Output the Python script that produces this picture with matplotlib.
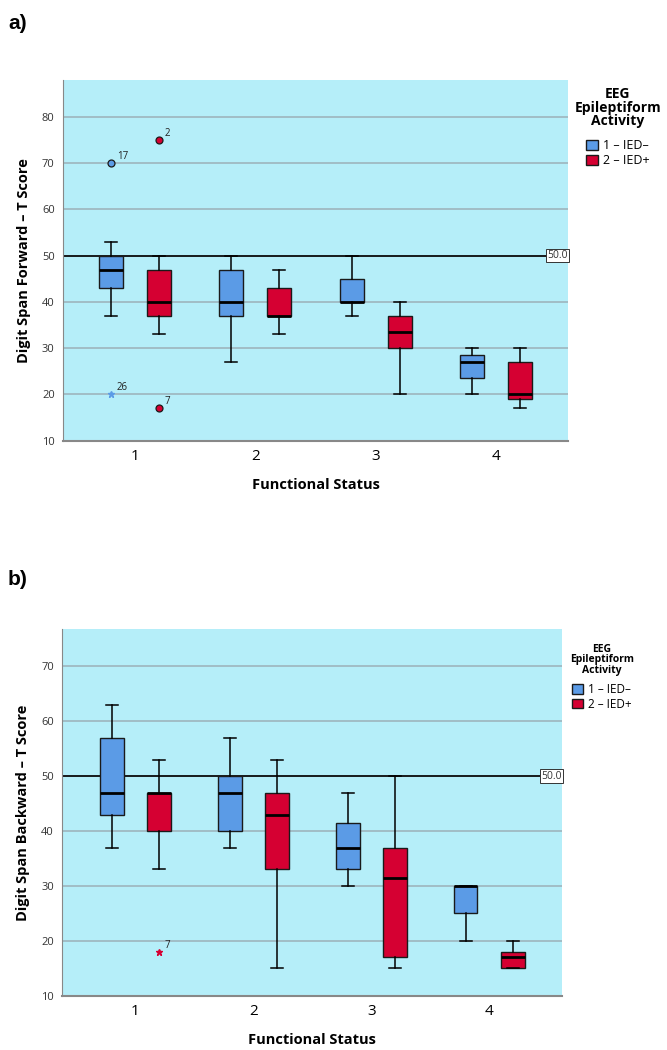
import matplotlib
matplotlib.use("Agg")
import matplotlib.pyplot as plt
from matplotlib.patches import Patch

plt.rcParams['font.family'] = ['Open Sans', 'DejaVu Sans']

# ---------------- data ----------------
categories = [1, 2, 3, 4]
groups = ["1 – IED–", "2 – IED+"]
colors = ["#5B9BE6", "#D50032"]

# Panel a) Digit Span Forward
fwd_neg_whislo = [37, 27, 37, 20]
fwd_neg_q1     = [43, 37, 40, 23.5]
fwd_neg_med    = [47, 40, 40, 27]
fwd_neg_q3     = [50, 47, 45, 28.5]
fwd_neg_whishi = [53, 50, 50, 30]
fwd_pos_whislo = [33, 33, 20, 17]
fwd_pos_q1     = [37, 37, 30, 19]
fwd_pos_med    = [40, 37, 33.5, 20]
fwd_pos_q3     = [47, 43, 37, 27]
fwd_pos_whishi = [50, 47, 40, 30]
# outliers: (category, group index, value, label, marker)
fwd_outliers = [(1, 0, 70, "17", "o"), (1, 0, 20, "26", "*"),
                (1, 1, 75, "2", "o"), (1, 1, 17, "7", "o")]

# Panel b) Digit Span Backward
bwd_neg_whislo = [37, 37, 30, 20]
bwd_neg_q1     = [43, 40, 33, 25]
bwd_neg_med    = [47, 47, 37, 30]
bwd_neg_q3     = [57, 50, 41.5, 30]
bwd_neg_whishi = [63, 57, 47, 30]
bwd_pos_whislo = [33, 15, 15, 15]
bwd_pos_q1     = [40, 33, 17, 15]
bwd_pos_med    = [47, 43, 31.5, 17]
bwd_pos_q3     = [47, 47, 37, 18]
bwd_pos_whishi = [53, 53, 50, 20]
bwd_outliers = [(1, 1, 18, "7", "*")]

ref_value = 50.0

BG = "#B5EEF9"
GRID = "#9DB5BD"


def make_stats(lo, q1, med, q3, hi):
    return [dict(whislo=a, q1=b, med=c, q3=d, whishi=e, fliers=[])
            for a, b, c, d, e in zip(lo, q1, med, q3, hi)]


def draw_panel(ax, neg, pos, outliers, ylim, yticks, ylabel, leg_fs, title_fs,
               xlim, leg_anchor, title_sep):
    ax.set_facecolor(BG)
    for t in yticks:
        ax.axhline(t, color=GRID, lw=1.2, zorder=0)
    offsets = [-0.2, 0.2]
    for gi, st in enumerate([neg, pos]):
        positions = [c + offsets[gi] for c in categories]
        ax.bxp(st, positions=positions, widths=0.2, patch_artist=True,
               showfliers=False,
               boxprops=dict(facecolor=colors[gi], edgecolor="#1a1a1a", lw=1.0),
               medianprops=dict(color="black", lw=2.0),
               whiskerprops=dict(color="black", lw=1.1),
               capprops=dict(color="black", lw=1.1),
               capwidths=0.1, zorder=3)
    for cat, gi, val, lab, mk in outliers:
        x = cat + offsets[gi]
        if mk == "o":
            ax.plot(x, val, marker="o", ms=5, mfc=colors[gi], mec="#1a1a1a",
                    mew=0.9, ls="none", zorder=4)
        else:
            ax.plot(x, val, marker="*", ms=5, color=colors[gi], ls="none", zorder=4)
        ax.annotate(lab, (x, val), xytext=(4, 3), textcoords="offset points",
                    fontsize=7, color="#222222", zorder=5)
    ax.axhline(ref_value, color="black", lw=1.2, zorder=2)
    ax.text(xlim[1] - 0.005, ref_value, f"{ref_value:.1f}", ha="right", va="center",
            fontsize=7.5, color="#333333", zorder=6,
            bbox=dict(boxstyle="square,pad=0.12", fc="white", ec="#333333", lw=0.7))
    ax.set_xlim(*xlim)
    ax.set_ylim(*ylim)
    ax.set_yticks(yticks)
    ax.set_xticks(categories)
    ax.set_xticklabels([str(c) for c in categories], fontsize=11)
    ax.tick_params(axis="y", length=0, labelsize=8, labelcolor="#333333", pad=6)
    ax.tick_params(axis="x", length=0, pad=6)
    for s in ["top", "right"]:
        ax.spines[s].set_visible(False)
    ax.spines["left"].set_color("#888888")
    ax.spines["bottom"].set_color("#888888")
    ax.spines["bottom"].set_linewidth(1.5)
    ax.set_xlabel("Functional Status", fontsize=10.5, fontweight="bold", labelpad=10)
    ax.set_ylabel(ylabel, fontsize=10.5, fontweight="bold", labelpad=8)
    handles = [Patch(facecolor=colors[i], edgecolor="#1a1a1a", label=groups[i])
               for i in range(2)]
    leg = ax.legend(handles=handles, title="EEG\nEpileptiform\nActivity",
                    loc="upper left", bbox_to_anchor=leg_anchor, frameon=False,
                    fontsize=leg_fs, title_fontproperties=dict(weight="bold", size=title_fs),
                    handlelength=0.9, handleheight=0.9, handletextpad=0.4,
                    labelspacing=0.15, borderaxespad=0.0, borderpad=0.0)
    leg._legend_box.align = "center"
    leg._legend_box.sep = title_sep
    tt = leg.get_title()
    tt.set_multialignment("center")
    tt.set_linespacing(0.95)


fig = plt.figure(figsize=(6.67, 10.5), dpi=100)
ax1 = fig.add_axes([0.0945, 0.5803, 0.757, 0.3435])
ax2 = fig.add_axes([0.0935, 0.0517, 0.7496, 0.3492])

draw_panel(ax1,
           make_stats(fwd_neg_whislo, fwd_neg_q1, fwd_neg_med, fwd_neg_q3, fwd_neg_whishi),
           make_stats(fwd_pos_whislo, fwd_pos_q1, fwd_pos_med, fwd_pos_q3, fwd_pos_whishi),
           fwd_outliers, (10, 88), [10, 20, 30, 40, 50, 60, 70, 80],
           "Digit Span Forward – T Score", 9, 10, (0.4, 4.6), (1.013, 0.98), 8)
draw_panel(ax2,
           make_stats(bwd_neg_whislo, bwd_neg_q1, bwd_neg_med, bwd_neg_q3, bwd_neg_whishi),
           make_stats(bwd_pos_whislo, bwd_pos_q1, bwd_pos_med, bwd_pos_q3, bwd_pos_whishi),
           bwd_outliers, (10, 76.8), [10, 20, 30, 40, 50, 60, 70],
           "Digit Span Backward – T Score", 8.5, 7.5, (0.38, 4.62), (1.015, 0.96), 5)

fig.text(0.012, 0.978, "a)", fontsize=15, fontweight="bold", va="center", ha="left",
         family="Liberation Sans")
fig.text(0.012, 0.448, "b)", fontsize=15, fontweight="bold", va="center", ha="left",
         family="Liberation Sans")

fig.savefig("out.png", dpi=100)
